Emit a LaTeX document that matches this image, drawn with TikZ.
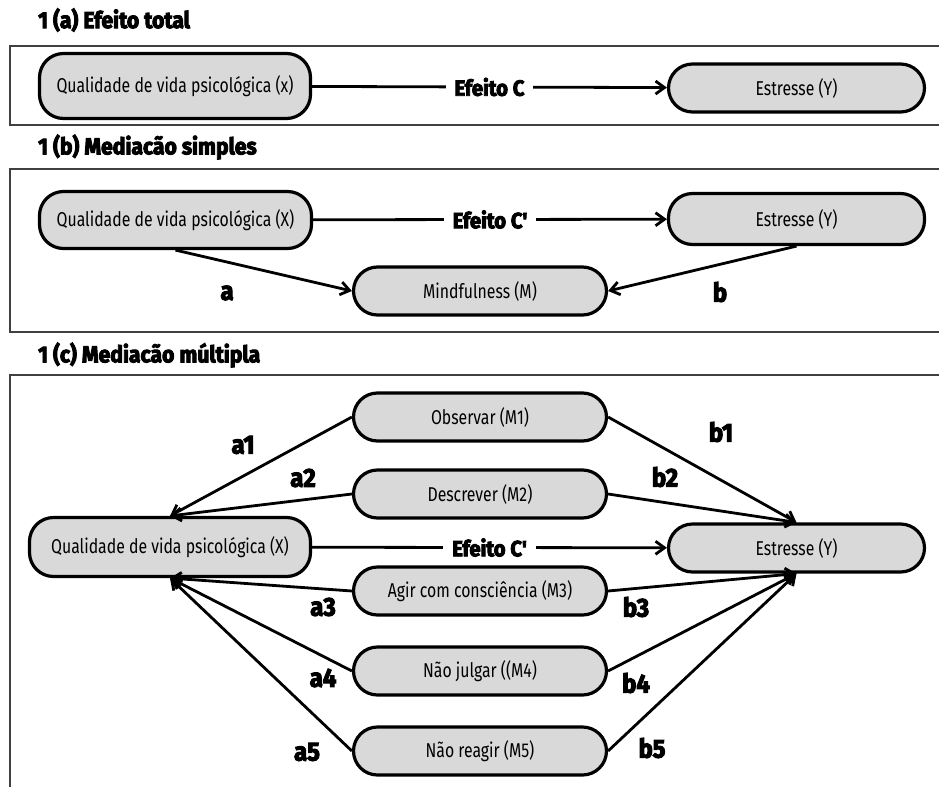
\documentclass[tikz,border=0pt]{standalone}
\usepackage{fontspec}
\setmainfont{Fira Sans}[FakeStretch=0.79]
\newfontfamily\heavyfont{Fira Sans}[FakeStretch=0.92,BoldFeatures={FakeBold=4}]
\usetikzlibrary{arrows.meta}

\tikzset{
  var/.style={draw=black, line width=3.2pt, fill=black!15, rounded corners=24pt,
    minimum width=253pt, minimum height=48pt, font=\fontsize{20}{22}\selectfont},
  frame/.style={draw=black!75, line width=1.6pt},
  link/.style={line width=2.8pt, -{Straight Barb[length=9pt,width=13pt]}},
  efeito/.style={fill=white, inner xsep=9pt, font=\heavyfont\bfseries\fontsize{22}{24}\selectfont},
  title/.style={anchor=west, inner sep=0pt, font=\heavyfont\bfseries\fontsize{23}{24}\selectfont},
  coef/.style={inner sep=0pt, font=\heavyfont\bfseries\fontsize{26}{28}\selectfont}
}

\begin{document}
\begin{tikzpicture}[x=1pt,y=-1pt]
    \useasboundingbox[fill=white] (0,0) rectangle (939,787);

    % 1 (a)
    \node[title] (ta) at (38,20) {1 (a) Efeito total};
    \draw[frame] (939,46) -- (10,46) -- (10,125) -- (939,125);
    \node[var, minimum width=271pt, minimum height=65pt] (xa) at (175,86) {Qualidade de vida psicológica (x)};
    \node[var, minimum width=256pt] (ya) at (796.5,88) {Estresse (Y)};
    \draw[link] (xa) -- node[efeito] (ea) {Efeito C} (ya);

    % 1 (b)
    \node[title] (tb) at (38,147) {1 (b) Mediacão simples};
    \draw[frame] (939,169) -- (10,169) -- (10,332) -- (939,332);
    \node[var, minimum width=272pt, minimum height=57pt] (xb) at (175.5,220) {Qualidade de vida psicológica (X)};
    \node[var, minimum width=256pt, minimum height=51pt] (yb) at (796.5,219) {Estresse (Y)};
    \node[var] (mb) at (480,291) {Mindfulness (M)};
    \draw[link] (xb) -- node[efeito] (eb) {Efeito C'} (yb);
    \draw[link] (xb.south) -- (mb.west);
    \draw[link] (yb.south) -- (mb.east);
    \node[coef] (la) at (227,293) {a};
    \node[coef] (lb) at (720,292) {b};

    % 1 (c)
    \node[title] (tc) at (38,355) {1 (c) Mediacão múltipla};
    \draw[frame] (939,375) -- (10,375) -- (10,787);
    \node[var, minimum width=281pt, minimum height=59pt] (xc) at (170,547) {Qualidade de vida psicológica (X)};
    \node[var, minimum width=256pt] (yc) at (796.5,548) {Estresse (Y)};
    \node[var] (m1) at (480,417) {Observar (M1)};
    \node[var] (m2) at (480,494) {Descrever (M2)};
    \node[var] (m3) at (480,591) {Agir com consciência (M3)};
    \node[var] (m4) at (480,671) {Não julgar ((M4)};
    \node[var] (m5) at (480,751) {Não reagir (M5)};
    \draw[link] (xc) -- node[efeito] (ec) {Efeito C'} (yc);
    \foreach \m in {m1,m2} {
      \draw[link] (\m.west) -- (xc.north);
      \draw[link] (\m.east) -- (yc.north);
    }
    \foreach \m in {m3,m4,m5} {
      \draw[link] (\m.west) -- (xc.south);
      \draw[link] (\m.east) -- (yc.south);
    }
    \node[coef] (la1) at (243,445) {a1};
    \node[coef] (la2) at (303,478) {a2};
    \node[coef] (la3) at (323,607) {a3};
    \node[coef] (la4) at (323,678) {a4};
    \node[coef] (la5) at (307,752) {a5};
    \node[coef] (lb1) at (721,432) {b1};
    \node[coef] (lb2) at (665,477) {b2};
    \node[coef] (lb3) at (636,607) {b3};
    \node[coef] (lb4) at (636,683) {b4};
    \node[coef] (lb5) at (652,748) {b5};
\end{tikzpicture}
\end{document}
